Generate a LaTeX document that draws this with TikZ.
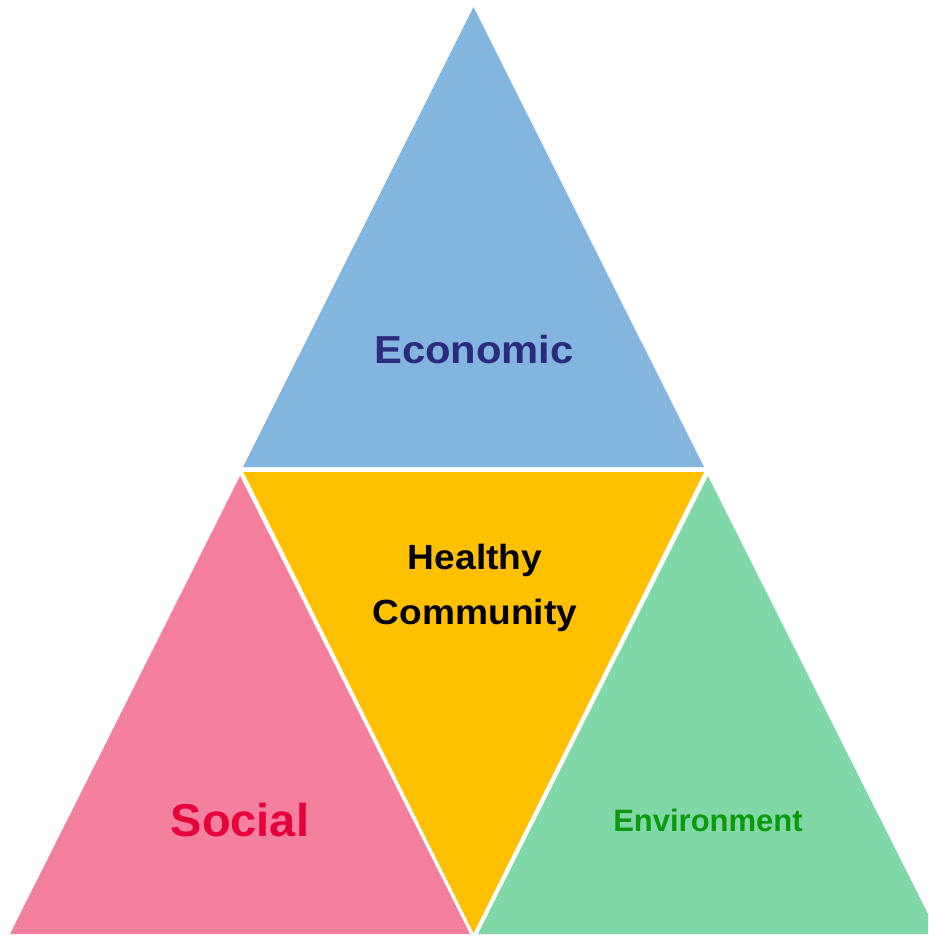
\documentclass[tikz,border=0pt]{standalone}
\usepackage{fontspec}
\setmainfont{Liberation Sans}
\usepackage{graphicx}
\definecolor{ecofill}{HTML}{83B6DF}
\definecolor{healthfill}{HTML}{FFC000}
\definecolor{socfill}{HTML}{F5809E}
\definecolor{envfill}{HTML}{80D8A8}
\definecolor{ecotext}{HTML}{2B2A7C}
\definecolor{soctext}{HTML}{E6003C}
\definecolor{envtext}{HTML}{0C9A0C}
\tikzset{
  tri/.style={draw=none},
  lbl/.style={inner sep=0pt, anchor=base, font=\bfseries}
}
\begin{document}
\begin{tikzpicture}[x=1pt,y=-1pt]
\useasboundingbox (0,0) rectangle (928,936);
\clip (0,0) rectangle (928,936);
\fill[tri, ecofill] (473.5,7) -- (243,467) -- (704,467) -- cycle;
\fill[tri, healthfill] (243.5,472) -- (704,472) -- (473.5,933) -- cycle;
\fill[tri, socfill] (240,476) -- (10,934) -- (470,934) -- cycle;
\fill[tri, envfill] (708,476) -- (478,934) -- (938,934) -- cycle;
\node[lbl, text=ecotext] (eco) at (474,363) {\fontsize{39}{46}\selectfont\scalebox{1.07}[1]{Economic}};
\node[lbl, text=black] (healthy) at (475,569.5) {\fontsize{35}{48}\selectfont\scalebox{1.06}[1]{Healthy}};
\node[lbl, text=black] (community) at (475,624) {\fontsize{35}{48}\selectfont\scalebox{1.06}[1]{Community}};
\node[lbl, text=soctext] (soc) at (240,836) {\fontsize{46}{54}\selectfont\scalebox{1.02}[1]{Social}};
\node[lbl, text=envtext] (env) at (708,831) {\fontsize{31}{36}\selectfont Environment};
\end{tikzpicture}
\end{document}
